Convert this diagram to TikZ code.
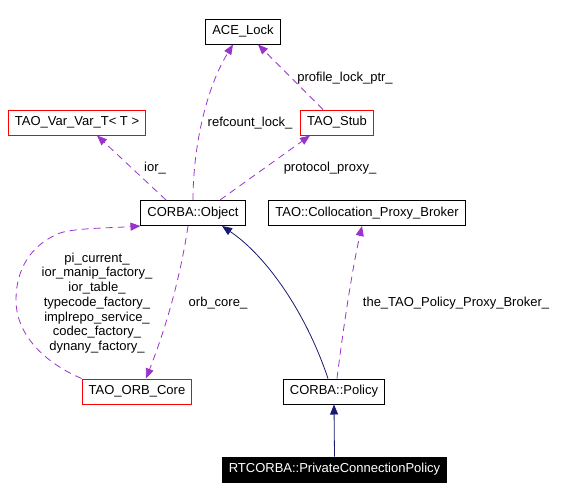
\documentclass[tikz,border=0pt]{standalone}
\usepackage{fontspec}
\setmainfont{Liberation Sans}
\usetikzlibrary{arrows.meta}
\definecolor{c1}{HTML}{9A32CD}
\definecolor{c2}{HTML}{191970}
\definecolor{c3}{HTML}{FF0000}

\begin{document}
\begin{tikzpicture}[x=1pt,y=-1pt,
  font=\fontsize{13}{14.7}\selectfont,
  cls/.style={draw=black, line width=1pt, inner xsep=6.5pt, inner ysep=0pt, minimum height=25pt},
  redcls/.style={cls, draw=c3},
  uses/.style={c1, line width=0.8pt, dash pattern=on 7pt off 5pt, -{Triangle[length=10pt,width=8pt]}},
  inherits/.style={c2, line width=0.8pt, -{Triangle[length=10pt,width=8pt]}},
  lbl/.style={inner sep=0pt, align=center}]
\useasboundingbox (0,0) rectangle (566,499);
% classes
\node[cls] (ace) at (243,31.5) {ACE\_Lock};
\node[redcls] (var) at (77,122.5) {TAO\_Var\_Var\_T< T >};
\node[redcls] (stub) at (337,122.5) {TAO\_Stub};
\node[cls] (obj) at (193,213) {CORBA::Object};
\node[cls] (broker) at (367,213) {TAO::Collocation\_Proxy\_Broker};
\node[redcls] (orb) at (137,391.5) {TAO\_ORB\_Core};
\node[cls] (policy) at (334,391.5) {CORBA::Policy};
\node[cls, fill=black, text=white] (rt) at (334.5,469.5) {RTCORBA::PrivateConnectionPolicy};
% members
\draw[uses] (obj.north) .. controls (193,150) and (205,90) .. ([xshift=-10pt]ace.south);
\draw[uses] ([xshift=-14pt]stub.north) -- ([xshift=15pt]ace.south);
\draw[uses] ([xshift=-27pt]obj.north) -- ([xshift=20pt]var.south);
\draw[uses] ([xshift=27pt]obj.north) -- ([xshift=-27pt]stub.south);
\draw[uses] (orb.north west) .. controls (45,363) and (16,335) .. (16,300)
  .. controls (16,270) and (30,245) .. (60,233)
  .. controls (75,228) and (110,228) .. (obj.south west);
\draw[uses] ([xshift=-5pt]obj.south) .. controls (180,280) and (165,330) .. ([xshift=9pt]orb.north);
\draw[uses] ([xshift=3pt]policy.north) .. controls (343,330) and (352,270) .. ([xshift=-5pt]broker.south);
% bases
\draw[inherits] ([xshift=-6pt]policy.north) .. controls (305,310) and (265,255) .. ([xshift=29pt]obj.south);
\draw[inherits] (rt.north) -- (policy.south);
% labels
\node[lbl] (l1) at (250,123) {refcount\_lock\_};
\node[lbl] (l2) at (345,78) {profile\_lock\_ptr\_};
\node[lbl] (l3) at (155,168) {ior\_};
\node[lbl] (l4) at (330,168) {protocol\_proxy\_};
\node[lbl] (l5) at (97,303) {pi\_current\_\\ior\_manip\_factory\_\\ior\_table\_\\typecode\_factory\_\\implrepo\_service\_\\codec\_factory\_\\dynany\_factory\_};
\node[lbl] (l6) at (218,303) {orb\_core\_};
\node[lbl] (l7) at (456,303) {the\_TAO\_Policy\_Proxy\_Broker\_};
\end{tikzpicture}
\end{document}
